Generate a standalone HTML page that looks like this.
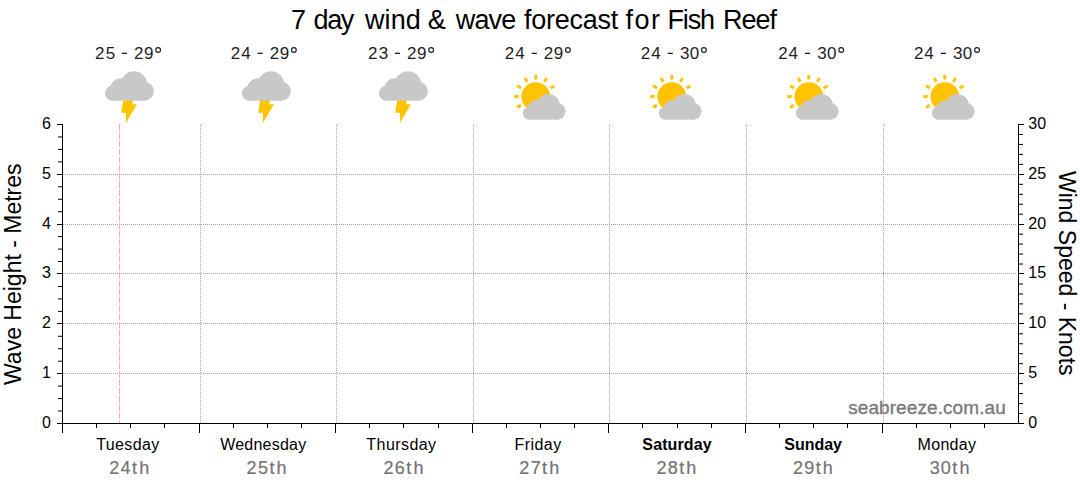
<!DOCTYPE html>
<html><head><meta charset="utf-8"><style>
html,body{margin:0;padding:0;background:#fff;}
body{width:1080px;height:490px;overflow:hidden;position:relative;}
svg{position:absolute;left:0;top:0;}
text{font-family:'Liberation Sans', sans-serif;}
</style></head><body>
<svg width="1080" height="490" viewBox="0 0 1080 490">
<defs>
<g id="cl">
<circle cx="8.4" cy="23.2" r="7.5"/>
<circle cx="17" cy="19.2" r="10.9"/>
<circle cx="30" cy="14.5" r="13.2"/>
<circle cx="40.3" cy="21.2" r="9.5"/>
<rect x="8.4" y="18" width="31.9" height="12.7"/>
</g>
</defs>

<g stroke="#a0a0a0" stroke-width="1" stroke-dasharray="1 1" shape-rendering="crispEdges"><line x1="200.5" y1="124" x2="200.5" y2="423" /><line x1="336.5" y1="124" x2="336.5" y2="423" /><line x1="473.5" y1="124" x2="473.5" y2="423" /><line x1="609.5" y1="124" x2="609.5" y2="423" /><line x1="746.5" y1="124" x2="746.5" y2="423" /><line x1="883.5" y1="124" x2="883.5" y2="423" /><line x1="63" y1="373.5" x2="1016" y2="373.5" /><line x1="63" y1="323.5" x2="1016" y2="323.5" /><line x1="63" y1="273.5" x2="1016" y2="273.5" /><line x1="63" y1="224.5" x2="1016" y2="224.5" /><line x1="63" y1="174.5" x2="1016" y2="174.5" /></g>
<line x1="119.5" y1="124" x2="119.5" y2="423" stroke="#ffa8ae" stroke-width="1" stroke-dasharray="6.4 1.84"/>
<g stroke="#000" stroke-width="1" shape-rendering="crispEdges"><line x1="62.5" y1="124" x2="62.5" y2="433"/><line x1="1018.5" y1="124" x2="1018.5" y2="424"/><line x1="57" y1="423.5" x2="1024" y2="423.5"/><line x1="57" y1="373.5" x2="62" y2="373.5"/><line x1="1019" y1="373.5" x2="1024" y2="373.5"/><line x1="57" y1="323.5" x2="62" y2="323.5"/><line x1="1019" y1="323.5" x2="1024" y2="323.5"/><line x1="57" y1="273.5" x2="62" y2="273.5"/><line x1="1019" y1="273.5" x2="1024" y2="273.5"/><line x1="57" y1="224.5" x2="62" y2="224.5"/><line x1="1019" y1="224.5" x2="1024" y2="224.5"/><line x1="57" y1="174.5" x2="62" y2="174.5"/><line x1="1019" y1="174.5" x2="1024" y2="174.5"/><line x1="57" y1="124.5" x2="62" y2="124.5"/><line x1="1019" y1="124.5" x2="1024" y2="124.5"/><line x1="199.5" y1="424" x2="199.5" y2="433"/><line x1="335.5" y1="424" x2="335.5" y2="433"/><line x1="472.5" y1="424" x2="472.5" y2="433"/><line x1="608.5" y1="424" x2="608.5" y2="433"/><line x1="745.5" y1="424" x2="745.5" y2="433"/><line x1="882.5" y1="424" x2="882.5" y2="433"/></g>
<g stroke="#000" stroke-width="1"><line x1="58" y1="136.96" x2="62" y2="136.96"/><line x1="58" y1="149.42" x2="62" y2="149.42"/><line x1="58" y1="161.88" x2="62" y2="161.88"/><line x1="58" y1="186.79" x2="62" y2="186.79"/><line x1="58" y1="199.25" x2="62" y2="199.25"/><line x1="58" y1="211.71" x2="62" y2="211.71"/><line x1="58" y1="236.62" x2="62" y2="236.62"/><line x1="58" y1="249.08" x2="62" y2="249.08"/><line x1="58" y1="261.54" x2="62" y2="261.54"/><line x1="58" y1="286.46" x2="62" y2="286.46"/><line x1="58" y1="298.92" x2="62" y2="298.92"/><line x1="58" y1="311.38" x2="62" y2="311.38"/><line x1="58" y1="336.29" x2="62" y2="336.29"/><line x1="58" y1="348.75" x2="62" y2="348.75"/><line x1="58" y1="361.21" x2="62" y2="361.21"/><line x1="58" y1="386.12" x2="62" y2="386.12"/><line x1="58" y1="398.58" x2="62" y2="398.58"/><line x1="58" y1="411.04" x2="62" y2="411.04"/><line x1="1019" y1="134.47" x2="1023" y2="134.47"/><line x1="1019" y1="144.43" x2="1023" y2="144.43"/><line x1="1019" y1="154.40" x2="1023" y2="154.40"/><line x1="1019" y1="164.37" x2="1023" y2="164.37"/><line x1="1019" y1="184.30" x2="1023" y2="184.30"/><line x1="1019" y1="194.27" x2="1023" y2="194.27"/><line x1="1019" y1="204.23" x2="1023" y2="204.23"/><line x1="1019" y1="214.20" x2="1023" y2="214.20"/><line x1="1019" y1="234.13" x2="1023" y2="234.13"/><line x1="1019" y1="244.10" x2="1023" y2="244.10"/><line x1="1019" y1="254.07" x2="1023" y2="254.07"/><line x1="1019" y1="264.03" x2="1023" y2="264.03"/><line x1="1019" y1="283.97" x2="1023" y2="283.97"/><line x1="1019" y1="293.93" x2="1023" y2="293.93"/><line x1="1019" y1="303.90" x2="1023" y2="303.90"/><line x1="1019" y1="313.87" x2="1023" y2="313.87"/><line x1="1019" y1="333.80" x2="1023" y2="333.80"/><line x1="1019" y1="343.77" x2="1023" y2="343.77"/><line x1="1019" y1="353.73" x2="1023" y2="353.73"/><line x1="1019" y1="363.70" x2="1023" y2="363.70"/><line x1="1019" y1="383.63" x2="1023" y2="383.63"/><line x1="1019" y1="393.60" x2="1023" y2="393.60"/><line x1="1019" y1="403.57" x2="1023" y2="403.57"/><line x1="1019" y1="413.53" x2="1023" y2="413.53"/><line x1="96.50" y1="424" x2="96.50" y2="428"/><line x1="130.50" y1="424" x2="130.50" y2="428"/><line x1="164.50" y1="424" x2="164.50" y2="428"/><line x1="233.50" y1="424" x2="233.50" y2="428"/><line x1="267.50" y1="424" x2="267.50" y2="428"/><line x1="301.50" y1="424" x2="301.50" y2="428"/><line x1="369.50" y1="424" x2="369.50" y2="428"/><line x1="403.50" y1="424" x2="403.50" y2="428"/><line x1="438.50" y1="424" x2="438.50" y2="428"/><line x1="506.50" y1="424" x2="506.50" y2="428"/><line x1="540.50" y1="424" x2="540.50" y2="428"/><line x1="574.50" y1="424" x2="574.50" y2="428"/><line x1="642.50" y1="424" x2="642.50" y2="428"/><line x1="677.50" y1="424" x2="677.50" y2="428"/><line x1="711.50" y1="424" x2="711.50" y2="428"/><line x1="779.50" y1="424" x2="779.50" y2="428"/><line x1="813.50" y1="424" x2="813.50" y2="428"/><line x1="847.50" y1="424" x2="847.50" y2="428"/><line x1="916.50" y1="424" x2="916.50" y2="428"/><line x1="950.50" y1="424" x2="950.50" y2="428"/><line x1="984.50" y1="424" x2="984.50" y2="428"/></g>
<g transform="translate(104.00,70)"><polygon fill="#ffc300" points="19.4,29 29,29 28.4,34.2 33,34.2 21.9,53.1 21.9,42.8 17.2,42.8"/><use href="#cl" fill="#c8c8c8"/></g>
<g transform="translate(241.00,70)"><polygon fill="#ffc300" points="19.4,29 29,29 28.4,34.2 33,34.2 21.9,53.1 21.9,42.8 17.2,42.8"/><use href="#cl" fill="#c8c8c8"/></g>
<g transform="translate(378.00,70)"><polygon fill="#ffc300" points="19.4,29 29,29 28.4,34.2 33,34.2 21.9,53.1 21.9,42.8 17.2,42.8"/><use href="#cl" fill="#c8c8c8"/></g>
<circle cx="535.80" cy="96.6" r="14.4" fill="#ffc300"/><line x1="535.80" y1="79.50" x2="535.80" y2="75.00" stroke="#ffc300" stroke-width="3"/><line x1="544.35" y1="81.79" x2="546.60" y2="77.89" stroke="#ffc300" stroke-width="3"/><line x1="550.61" y1="88.05" x2="554.51" y2="85.80" stroke="#ffc300" stroke-width="3"/><line x1="527.25" y1="81.79" x2="525.00" y2="77.89" stroke="#ffc300" stroke-width="3"/><line x1="520.99" y1="88.05" x2="517.09" y2="85.80" stroke="#ffc300" stroke-width="3"/><line x1="518.70" y1="96.60" x2="514.20" y2="96.60" stroke="#ffc300" stroke-width="3"/><line x1="520.99" y1="105.15" x2="517.09" y2="107.40" stroke="#ffc300" stroke-width="3"/><g transform="translate(522.00,92.8) scale(0.875)"><use href="#cl" fill="#c8c8c8"/></g>
<circle cx="671.80" cy="96.6" r="14.4" fill="#ffc300"/><line x1="671.80" y1="79.50" x2="671.80" y2="75.00" stroke="#ffc300" stroke-width="3"/><line x1="680.35" y1="81.79" x2="682.60" y2="77.89" stroke="#ffc300" stroke-width="3"/><line x1="686.61" y1="88.05" x2="690.51" y2="85.80" stroke="#ffc300" stroke-width="3"/><line x1="663.25" y1="81.79" x2="661.00" y2="77.89" stroke="#ffc300" stroke-width="3"/><line x1="656.99" y1="88.05" x2="653.09" y2="85.80" stroke="#ffc300" stroke-width="3"/><line x1="654.70" y1="96.60" x2="650.20" y2="96.60" stroke="#ffc300" stroke-width="3"/><line x1="656.99" y1="105.15" x2="653.09" y2="107.40" stroke="#ffc300" stroke-width="3"/><g transform="translate(658.00,92.8) scale(0.875)"><use href="#cl" fill="#c8c8c8"/></g>
<circle cx="808.80" cy="96.6" r="14.4" fill="#ffc300"/><line x1="808.80" y1="79.50" x2="808.80" y2="75.00" stroke="#ffc300" stroke-width="3"/><line x1="817.35" y1="81.79" x2="819.60" y2="77.89" stroke="#ffc300" stroke-width="3"/><line x1="823.61" y1="88.05" x2="827.51" y2="85.80" stroke="#ffc300" stroke-width="3"/><line x1="800.25" y1="81.79" x2="798.00" y2="77.89" stroke="#ffc300" stroke-width="3"/><line x1="793.99" y1="88.05" x2="790.09" y2="85.80" stroke="#ffc300" stroke-width="3"/><line x1="791.70" y1="96.60" x2="787.20" y2="96.60" stroke="#ffc300" stroke-width="3"/><line x1="793.99" y1="105.15" x2="790.09" y2="107.40" stroke="#ffc300" stroke-width="3"/><g transform="translate(795.00,92.8) scale(0.875)"><use href="#cl" fill="#c8c8c8"/></g>
<circle cx="944.80" cy="96.6" r="14.4" fill="#ffc300"/><line x1="944.80" y1="79.50" x2="944.80" y2="75.00" stroke="#ffc300" stroke-width="3"/><line x1="953.35" y1="81.79" x2="955.60" y2="77.89" stroke="#ffc300" stroke-width="3"/><line x1="959.61" y1="88.05" x2="963.51" y2="85.80" stroke="#ffc300" stroke-width="3"/><line x1="936.25" y1="81.79" x2="934.00" y2="77.89" stroke="#ffc300" stroke-width="3"/><line x1="929.99" y1="88.05" x2="926.09" y2="85.80" stroke="#ffc300" stroke-width="3"/><line x1="927.70" y1="96.60" x2="923.20" y2="96.60" stroke="#ffc300" stroke-width="3"/><line x1="929.99" y1="105.15" x2="926.09" y2="107.40" stroke="#ffc300" stroke-width="3"/><g transform="translate(931.00,92.8) scale(0.875)"><use href="#cl" fill="#c8c8c8"/></g>
<g><text x="291.02" y="29" font-size="27" letter-spacing="0.000">7</text><text x="313.47" y="29" font-size="27" letter-spacing="-1.323">day</text><text x="365.04" y="29" font-size="27" letter-spacing="0.057">wind</text><text x="427.75" y="29" font-size="27" letter-spacing="0.000">&amp;</text><text x="455.74" y="29" font-size="27" letter-spacing="-0.857">wave</text><text x="523.92" y="29" font-size="27" letter-spacing="-0.237">forecast</text><text x="625.52" y="29" font-size="27" letter-spacing="1.511">for</text><text x="667.39" y="29" font-size="27" letter-spacing="-1.113">Fish</text><text x="722.99" y="29" font-size="27" letter-spacing="-1.019">Reef</text><text x="95.05" y="59" font-size="17" fill="#1e1e1e" letter-spacing="1.160">25</text><rect x="121.90" y="52.7" width="5.1" height="1.3" fill="#1e1e1e"/><text x="133.95" y="59" font-size="17" fill="#1e1e1e" letter-spacing="0.651">29</text><circle cx="158.15" cy="49.95" r="2.4" fill="none" stroke="#1e1e1e" stroke-width="1.15"/><text x="230.75" y="59" font-size="17" fill="#1e1e1e" letter-spacing="0.944">24</text><rect x="257.60" y="52.7" width="5.1" height="1.3" fill="#1e1e1e"/><text x="269.65" y="59" font-size="17" fill="#1e1e1e" letter-spacing="0.651">29</text><circle cx="293.85" cy="49.95" r="2.4" fill="none" stroke="#1e1e1e" stroke-width="1.15"/><text x="368.05" y="59" font-size="17" fill="#1e1e1e" letter-spacing="1.193">23</text><rect x="394.90" y="52.7" width="5.1" height="1.3" fill="#1e1e1e"/><text x="406.95" y="59" font-size="17" fill="#1e1e1e" letter-spacing="0.651">29</text><circle cx="431.15" cy="49.95" r="2.4" fill="none" stroke="#1e1e1e" stroke-width="1.15"/><text x="504.85" y="59" font-size="17" fill="#1e1e1e" letter-spacing="0.944">24</text><rect x="531.70" y="52.7" width="5.1" height="1.3" fill="#1e1e1e"/><text x="543.75" y="59" font-size="17" fill="#1e1e1e" letter-spacing="0.651">29</text><circle cx="567.95" cy="49.95" r="2.4" fill="none" stroke="#1e1e1e" stroke-width="1.15"/><text x="640.85" y="59" font-size="17" fill="#1e1e1e" letter-spacing="0.944">24</text><rect x="667.70" y="52.7" width="5.1" height="1.3" fill="#1e1e1e"/><text x="679.95" y="59" font-size="17" fill="#1e1e1e" letter-spacing="0.302">30</text><circle cx="703.95" cy="49.95" r="2.4" fill="none" stroke="#1e1e1e" stroke-width="1.15"/><text x="778.15" y="59" font-size="17" fill="#1e1e1e" letter-spacing="0.944">24</text><rect x="805.00" y="52.7" width="5.1" height="1.3" fill="#1e1e1e"/><text x="817.25" y="59" font-size="17" fill="#1e1e1e" letter-spacing="0.302">30</text><circle cx="841.25" cy="49.95" r="2.4" fill="none" stroke="#1e1e1e" stroke-width="1.15"/><text x="913.95" y="59" font-size="17" fill="#1e1e1e" letter-spacing="0.944">24</text><rect x="940.80" y="52.7" width="5.1" height="1.3" fill="#1e1e1e"/><text x="953.05" y="59" font-size="17" fill="#1e1e1e" letter-spacing="0.302">30</text><circle cx="977.05" cy="49.95" r="2.4" fill="none" stroke="#1e1e1e" stroke-width="1.15"/><text x="51" y="428" font-size="16" text-anchor="end">0</text><text x="51" y="378" font-size="16" text-anchor="end">1</text><text x="51" y="328" font-size="16" text-anchor="end">2</text><text x="51" y="278" font-size="16" text-anchor="end">3</text><text x="51" y="229" font-size="16" text-anchor="end">4</text><text x="51" y="179" font-size="16" text-anchor="end">5</text><text x="51" y="129" font-size="16" text-anchor="end">6</text><text x="1028.3" y="428" font-size="16">0</text><text x="1028.3" y="378" font-size="16">5</text><text x="1028.3" y="328" font-size="16">10</text><text x="1028.3" y="278" font-size="16">15</text><text x="1028.3" y="229" font-size="16">20</text><text x="1028.3" y="179" font-size="16">25</text><text x="1028.3" y="129" font-size="16">30</text><text transform="translate(20.5,385) rotate(-90)" font-size="23">Wave Height - Metres</text><text transform="translate(1058.5,171) rotate(90)" font-size="23">Wind Speed - Knots</text><text x="96.24" y="450" font-size="16" letter-spacing="0.387">Tuesday</text><text x="220.13" y="450" font-size="16" letter-spacing="0.226">Wednesday</text><text x="366.34" y="450" font-size="16" letter-spacing="0.442">Thursday</text><text x="514.49" y="450" font-size="16" letter-spacing="0.458">Friday</text><text x="642.34" y="450" font-size="16" font-weight="bold" letter-spacing="0.125">Saturday</text><text x="784.34" y="450" font-size="16" font-weight="bold" letter-spacing="-0.028">Sunday</text><text x="917.59" y="450" font-size="16" letter-spacing="0.304">Monday</text><text x="109.29" y="474" font-size="18" fill="#737373" letter-spacing="1.111" stroke="#737373" stroke-width="0.2">24</text><text x="132.08" y="474" font-size="18" fill="#737373" letter-spacing="0.000" stroke="#737373" stroke-width="0.2">t</text><text x="139.25" y="474" font-size="18" fill="#737373" letter-spacing="0.000" stroke="#737373" stroke-width="0.2">h</text><text x="246.59" y="474" font-size="18" fill="#737373" letter-spacing="1.340" stroke="#737373" stroke-width="0.2">25</text><text x="269.38" y="474" font-size="18" fill="#737373" letter-spacing="0.000" stroke="#737373" stroke-width="0.2">t</text><text x="276.55" y="474" font-size="18" fill="#737373" letter-spacing="0.000" stroke="#737373" stroke-width="0.2">h</text><text x="383.49" y="474" font-size="18" fill="#737373" letter-spacing="1.375" stroke="#737373" stroke-width="0.2">26</text><text x="406.28" y="474" font-size="18" fill="#737373" letter-spacing="0.000" stroke="#737373" stroke-width="0.2">t</text><text x="413.45" y="474" font-size="18" fill="#737373" letter-spacing="0.000" stroke="#737373" stroke-width="0.2">h</text><text x="519.29" y="474" font-size="18" fill="#737373" letter-spacing="1.489" stroke="#737373" stroke-width="0.2">27</text><text x="542.08" y="474" font-size="18" fill="#737373" letter-spacing="0.000" stroke="#737373" stroke-width="0.2">t</text><text x="549.25" y="474" font-size="18" fill="#737373" letter-spacing="0.000" stroke="#737373" stroke-width="0.2">h</text><text x="656.39" y="474" font-size="18" fill="#737373" letter-spacing="1.366" stroke="#737373" stroke-width="0.2">28</text><text x="679.18" y="474" font-size="18" fill="#737373" letter-spacing="0.000" stroke="#737373" stroke-width="0.2">t</text><text x="686.35" y="474" font-size="18" fill="#737373" letter-spacing="0.000" stroke="#737373" stroke-width="0.2">h</text><text x="792.89" y="474" font-size="18" fill="#737373" letter-spacing="1.436" stroke="#737373" stroke-width="0.2">29</text><text x="815.68" y="474" font-size="18" fill="#737373" letter-spacing="0.000" stroke="#737373" stroke-width="0.2">t</text><text x="822.85" y="474" font-size="18" fill="#737373" letter-spacing="0.000" stroke="#737373" stroke-width="0.2">h</text><text x="929.71" y="474" font-size="18" fill="#737373" letter-spacing="1.067" stroke="#737373" stroke-width="0.2">30</text><text x="952.28" y="474" font-size="18" fill="#737373" letter-spacing="0.000" stroke="#737373" stroke-width="0.2">t</text><text x="959.45" y="474" font-size="18" fill="#737373" letter-spacing="0.000" stroke="#737373" stroke-width="0.2">h</text><text x="848.17" y="414" font-size="19" fill="#7a7a7a" letter-spacing="0.085" stroke="#7a7a7a" stroke-width="0.35">seabreeze.com.au</text></g>
</svg></body></html>
